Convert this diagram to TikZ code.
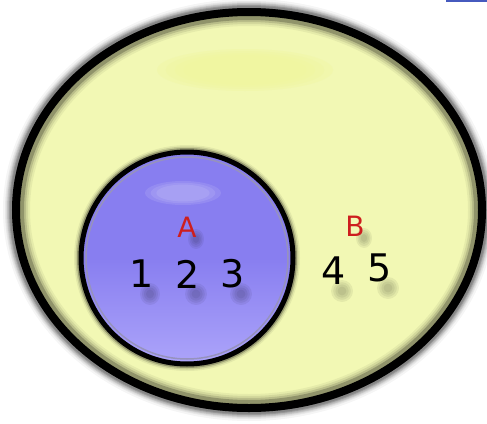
\documentclass[tikz,border=0pt]{standalone}
\usepackage{fontspec}
\setmainfont{DejaVu Sans}
\usetikzlibrary{shapes}
\definecolor{pale}{RGB}{242, 248, 180}
\definecolor{glow}{RGB}{240, 246, 158}
\definecolor{violet}{RGB}{136, 126, 240}
\definecolor{lilac}{RGB}{172, 164, 250}
\definecolor{setred}{RGB}{205, 30, 30}
\definecolor{rule}{RGB}{70, 90, 190}

\begin{document}
\begin{tikzpicture}[
   x=1pt, y=-1pt,
   setname/.style={text=setred, font=\fontsize{28}{30}\selectfont, inner sep=0},
   member/.style={text=black, font=\fontsize{38}{40}\selectfont, inner sep=0},
   blob/.style={fill=black, opacity=0.06}
  ]

  % Page
  \useasboundingbox (0, 0) rectangle (487, 423);
  \draw[rule, line width=2] (446, 1) -- (487, 1);

  % Universe
  \foreach \w/\o in {26/0.04, 22/0.06, 18/0.1, 14/0.16} {
    \draw[black, opacity=\o, line width=\w] (249, 210) ellipse [x radius=233, y radius=198];
  }
  \fill[pale] (249, 210) ellipse [x radius=233, y radius=198];
  \foreach \r in {1, 0.9, 0.8, 0.7} {
    \fill[glow, opacity=0.35] (245, 70) ellipse [x radius=88 * \r, y radius=21 * \r];
  }
  \foreach \w/\o in {24/0.05, 20/0.08, 16/0.12, 12/0.22} {
    \draw[black, opacity=\o, line width=\w] (249, 210) ellipse [x radius=231, y radius=196];
  }
  \draw[black, line width=8] (249, 210) ellipse [x radius=233, y radius=198];

  % Set A
  \foreach \w/\o in {14/0.06, 11/0.12, 8/0.25} {
    \draw[black, opacity=\o, line width=\w] (187, 258) circle [radius=106];
  }
  \shade[top color=violet, bottom color=lilac, middle color=violet]
    (187, 258) circle [radius=106];
  \foreach \r in {1, 0.85, 0.7} {
    \fill[white, opacity=0.1] (183, 193) ellipse [x radius=38 * \r, y radius=12 * \r];
  }
  \draw[lilac!50!gray, line width=1.5] (187, 258) circle [radius=101];
  \draw[black, line width=5] (187, 258) circle [radius=106];

  % Shadows
  \foreach \x/\y/\rx/\ry in {196/239/8/10, 364/238/8/10,
                             150/294/10/11, 196/294/11/11, 241/294/11/11,
                             342/291/11/11, 388/288/11/11} {
    \foreach \s in {1, 0.8, 0.6, 0.4} {
      \fill[blob] (\x, \y) ellipse [x radius=\rx * \s, y radius=\ry * \s];
    }
  }

  % Labels
  \node (LA) at (187, 227) [setname] {A};
  \node (LB) at (355, 226) [setname] {B};

  \node (E1) at (142, 274) [member] {1};
  \node (E2) at (188, 274) [member] {2};
  \node (E3) at (233, 274) [member] {3};
  \node (E4) at (334, 271) [member] {4};
  \node (E5) at (380, 268) [member] {5};

\end{tikzpicture}
\end{document}
